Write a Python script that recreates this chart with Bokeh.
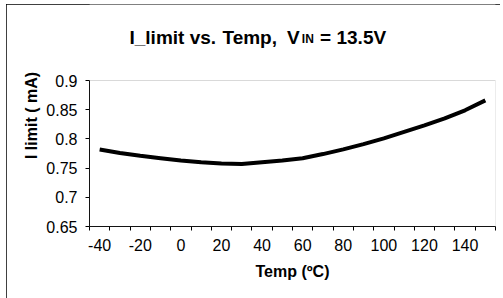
from bokeh.plotting import figure
from bokeh.models import FixedTicker, Label, Range1d, BoxAnnotation
from bokeh.embed import file_html
from bokeh.resources import INLINE

temps = [-40, -30, -20, -10, 0, 10, 20, 30, 40, 50, 60, 70, 80, 90, 100, 110, 120, 130, 140, 150]
ilimit = [0.782, 0.776, 0.771, 0.767, 0.763, 0.760, 0.758, 0.757, 0.760, 0.763, 0.767,
          0.774, 0.782, 0.791, 0.801, 0.812, 0.823, 0.835, 0.849, 0.866]
x_tick_labels = [-40, -20, 0, 20, 40, 60, 80, 100, 120, 140]
x_tick_marks = [-45, -35, -25, -15, -5, 5, 15, 25, 35, 45, 55, 65, 75, 85, 95, 105, 115, 125, 135, 145, 155]
y_ticks = [0.65, 0.7, 0.75, 0.8, 0.85, 0.9]
y_tick_text = ["0.65", "0.7", "0.75", "0.8", "0.85", "0.9"]
X_MIN, X_MAX = -45, 155
Y_MIN, Y_MAX = 0.65, 0.9

FONT = "Liberation Sans"

# frame extends up to the top of the canvas so the title can live inside it
y_top = Y_MAX + 76 * (Y_MAX - Y_MIN) / 146

p = figure(width=494, height=294, output_backend="svg", toolbar_location=None,
           x_range=Range1d(X_MIN, X_MAX), y_range=Range1d(Y_MIN, y_top),
           min_border_left=83, min_border_right=5, min_border_top=0, min_border_bottom=72,
           background_fill_color="white", border_fill_color="white",
           styles={"position": "relative", "left": "6px", "top": "4px",
                   "outline": "1px solid black", "outline-offset": "-1px"})
p.outline_line_color = None
p.xgrid.visible = False
p.ygrid.visible = False

# plot-area border (grey)
p.add_layout(BoxAnnotation(left=X_MIN, right=X_MAX, bottom=Y_MIN, top=Y_MAX,
                           fill_alpha=0, line_color="#808080", line_width=1))

p.line(temps, ilimit, line_color="black", line_width=4)

xa = p.xaxis[0]
xa.ticker = FixedTicker(ticks=x_tick_labels, minor_ticks=x_tick_marks)
xa.major_label_overrides = {t: str(t) for t in x_tick_labels}
xa.major_tick_out = 0
xa.major_tick_in = 0
xa.minor_tick_out = 4
xa.minor_tick_in = 0
xa.minor_tick_line_color = "black"
xa.axis_line_color = "black"
xa.major_label_text_font = FONT
xa.major_label_text_font_size = "16px"
xa.major_label_text_color = "black"
xa.major_label_standoff = 8
xa.axis_label = "Temp (ºC)"
xa.axis_label_text_font = FONT
xa.axis_label_text_font_size = "16px"
xa.axis_label_text_font_style = "bold"
xa.axis_label_text_color = "black"
xa.axis_label_standoff = 9

ya = p.yaxis[0]
ya.bounds = (Y_MIN, Y_MAX)
ya.ticker = FixedTicker(ticks=y_ticks, minor_ticks=[])
ya.major_label_overrides = {t: s for t, s in zip(y_ticks, y_tick_text)}
ya.major_tick_out = 4
ya.major_tick_in = 0
ya.major_tick_line_color = "black"
ya.axis_line_color = "black"
ya.major_label_text_font = FONT
ya.major_label_text_font_size = "16px"
ya.major_label_text_color = "black"
ya.major_label_standoff = 8
ya.axis_label = "I limit ( mA)"
ya.axis_label_text_font = FONT
ya.axis_label_text_font_size = "16px"
ya.axis_label_text_font_style = "bold"
ya.axis_label_text_color = "black"
ya.axis_label_standoff = 3

title_parts = [
    ("I_limit vs.", -25.3, 0.9741, "19px"),
    ("Temp,", 20.5, 0.9741, "19px"),
    ("V", 52.3, 0.9741, "19px"),
    ("IN", 59.6, 0.9714, "12px"),
    ("= 13.5V", 68.6, 0.9741, "19px"),
]
for txt, xx, yy, fs in title_parts:
    p.add_layout(Label(x=xx, y=yy, text=txt, text_font=FONT, text_font_size=fs,
                       text_font_style="bold", text_color="black",
                       text_align="left", text_baseline="alphabetic"))

open("out.html", "w").write(file_html(p, INLINE))
